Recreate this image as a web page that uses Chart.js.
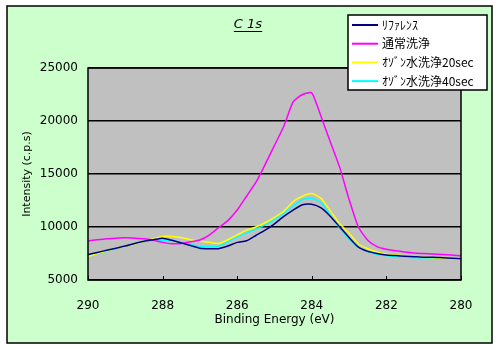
<!DOCTYPE html>
<html>
<head>
<meta charset="utf-8">
<script src="https://cdn.jsdelivr.net/npm/chart.js@4"></script>
<style>
  html, body { margin: 0; padding: 0; background: #ffffff; }
  #wrap { width: 500px; height: 350px; }
</style>
</head>
<body>
<div id="wrap"><canvas id="myChart" width="500" height="350"></canvas></div>
<script>
// Binding energy (eV)
const energia = [290, 289.75, 289.5, 289.25, 289, 288.75, 288.5, 288.25, 288, 287.75,
  287.5, 287.25, 287, 286.75, 286.5, 286.25, 286, 285.75, 285.5, 285.25,
  285, 284.75, 284.5, 284.25, 284, 283.75, 283.5, 283.25, 283, 282.75,
  282.5, 282.25, 282, 281.75, 281.5, 281.25, 281, 280.75, 280.5, 280.25, 280];

// Intensity (c.p.s) por série
const referencia = [7400, 7600, 7800, 8000, 8200, 8450, 8650, 8800, 8950, 8750,
  8500, 8250, 8000, 7950, 7950, 8200, 8550, 8700, 9200, 9700,
  10300, 11000, 11600, 12100, 12150, 11800, 11000, 10000, 9000, 8100,
  7700, 7500, 7350, 7300, 7250, 7200, 7150, 7150, 7100, 7050, 7000];
const normal = [8680, 8800, 8900, 8950, 8980, 8950, 8900, 8750, 8550, 8420,
  8450, 8600, 8770, 9240, 9930, 10600, 11600, 12900, 14200, 15900,
  17700, 19500, 21800, 22500, 22650, 20400, 18000, 15600, 12600, 10000,
  8750, 8150, 7900, 7750, 7650, 7550, 7500, 7450, 7400, 7350, 7280];
const ozono20 = [7200, 7500, 7750, 8000, 8150, 8400, 8650, 8900, 9100, 9100,
  9000, 8800, 8650, 8550, 8450, 8800, 9250, 9700, 10000, 10400,
  10900, 11500, 12400, 12900, 13150, 12700, 11500, 10300, 9400, 8400,
  7950, 7650, 7450, 7350, 7250, 7200, 7150, 7100, 7050, 7000, 6950];
const ozono40 = [7350, 7500, 7700, 7950, 8200, 8450, 8650, 8750, 8750, 8700,
  8550, 8350, 8150, 8150, 8200, 8600, 9050, 9450, 9800, 10200,
  10700, 11300, 12000, 12600, 12700, 12300, 11100, 9900, 8900, 8100,
  7700, 7400, 7300, 7200, 7150, 7100, 7100, 7050, 7050, 7000, 6950];

const nomes = ['ﾘﾌｧﾚﾝｽ', '通常洗浄', 'ｵｿﾞﾝ水洗浄20sec', 'ｵｿﾞﾝ水洗浄40sec'];
const cores = ['#000080', '#ff00ff', '#ffff00', '#00ffff'];
const xTicks = [290, 288, 286, 284, 282, 280];
const yTicks = [5000, 10000, 15000, 20000, 25000];

function pontos(valores) {
  return energia.map((e, i) => ({ x: e, y: valores[i] }));
}

const series = [referencia, normal, ozono20, ozono40];

// Fundo verde, área cinza, título e legenda
const fundoPlugin = {
  id: 'fundo',
  beforeDraw(chart) {
    const c = chart.ctx;
    const a = chart.chartArea;
    c.save();
    c.fillStyle = '#ffffff';
    c.fillRect(0, 0, chart.width, chart.height);
    c.fillStyle = '#ccffcc';
    c.fillRect(7, 6, 485, 337);
    c.strokeStyle = '#000000';
    c.lineWidth = 1.5;
    c.strokeRect(7, 6, 485, 337);
    c.fillStyle = '#c0c0c0';
    c.fillRect(a.left, a.top, a.right - a.left, a.bottom - a.top);
    c.restore();
  },
  afterDatasetsDraw(chart) {
    const c = chart.ctx;
    const a = chart.chartArea;
    const xs = chart.scales.x;
    c.save();
    // pequenas marcas internas do eixo X
    c.strokeStyle = '#000000';
    c.lineWidth = 1;
    xTicks.forEach(t => {
      const px = Math.round(xs.getPixelForValue(t)) + 0.5;
      c.beginPath();
      c.moveTo(px, a.bottom);
      c.lineTo(px, a.bottom - 4);
      c.stroke();
    });
    c.lineWidth = 1.5;
    c.strokeRect(a.left, a.top, a.right - a.left, a.bottom - a.top);
    c.restore();
  },
  afterDraw(chart) {
    const c = chart.ctx;
    c.save();
    // título
    c.fillStyle = '#000000';
    c.font = 'italic 13px "DejaVu Sans"';
    c.textAlign = 'center';
    c.textBaseline = 'middle';
    c.fillText('C 1s', 248, 25);
    const w = c.measureText('C 1s').width;
    c.fillRect(248 - w / 2, 31, w, 1);
    // legenda
    c.fillStyle = '#ffffff';
    c.fillRect(348, 15, 139, 75);
    c.strokeStyle = '#000000';
    c.lineWidth = 1.5;
    c.strokeRect(348, 15, 139, 75);
    c.font = '12px "Noto Sans CJK JP"';
    c.textAlign = 'left';
    chart.data.datasets.forEach((ds, i) => {
      const y = 25 + i * 18.7;
      c.strokeStyle = ds.borderColor;
      c.lineWidth = 2;
      c.beginPath();
      c.moveTo(352, y);
      c.lineTo(378, y);
      c.stroke();
      c.fillStyle = '#000000';
      c.fillText(ds.label, 382, y);
    });
    c.restore();
  }
};

const ctx = document.getElementById('myChart').getContext('2d');
new Chart(ctx, {
  type: 'line',
  data: {
    datasets: series.map((s, i) => ({
      label: nomes[i],
      data: pontos(s),
      borderColor: cores[i],
      borderWidth: 1.5,
      pointRadius: 0,
      tension: 0.2,
      fill: false
    }))
  },
  options: {
    responsive: false,
    animation: false,
    layout: { padding: { left: 0, top: 68, right: 39, bottom: 0 } },
    plugins: {
      legend: { display: false },
      tooltip: { enabled: false }
    },
    scales: {
      x: {
        type: 'linear',
        reverse: true,
        min: 280,
        max: 290,
        afterFit: scale => { scale.height = 70; },
        afterBuildTicks: scale => { scale.ticks = xTicks.map(v => ({ value: v })); },
        grid: { display: false },
        border: { display: false },
        ticks: {
          color: '#000000',
          padding: 11,
          maxRotation: 0,
          callback: v => String(v),
          font: { family: 'DejaVu Sans', size: 12 }
        },
        title: {
          display: true,
          text: 'Binding Energy (eV)',
          color: '#000000',
          padding: { top: 0, bottom: 23 },
          font: { family: 'DejaVu Sans', size: 12 }
        }
      },
      y: {
        min: 5000,
        max: 25000,
        afterFit: scale => { scale.width = 88; },
        afterBuildTicks: scale => { scale.ticks = yTicks.map(v => ({ value: v })); },
        grid: { color: '#000000', lineWidth: 1.5, drawTicks: false },
        border: { display: false },
        ticks: {
          color: '#000000',
          padding: 10,
          callback: v => String(v),
          font: { family: 'DejaVu Sans', size: 12 }
        },
        title: {
          display: true,
          text: 'Intensity (c.p.s)',
          color: '#000000',
          padding: { top: 21, bottom: 0 },
          font: { family: 'DejaVu Sans', size: 11 }
        }
      }
    }
  },
  plugins: [fundoPlugin]
});
</script>
</body>
</html>
